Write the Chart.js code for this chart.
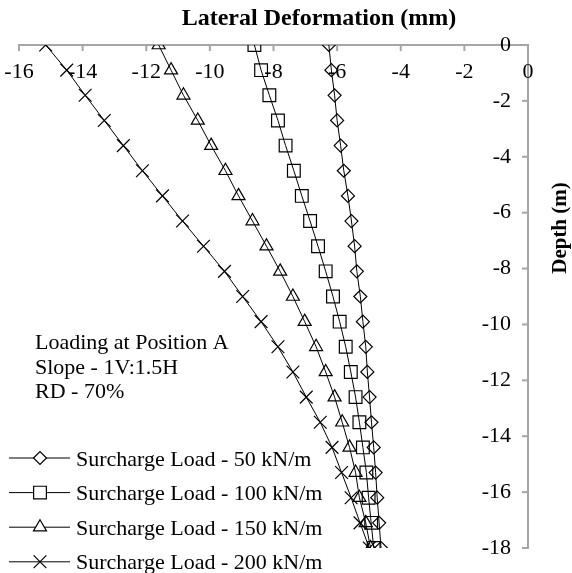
<!DOCTYPE html>
<html>
<head>
<meta charset="utf-8">
<script src="https://cdn.jsdelivr.net/npm/chart.js@4.4.1/dist/chart.umd.min.js"></script>
<style>
  html, body { margin: 0; padding: 0; background: #fff; }
  #chart { display: block; }
</style>
</head>
<body>
<canvas id="chart" width="572" height="573"></canvas>
<script>
// depth of each reading (m)
const depths = [0, -0.9, -1.8, -2.7, -3.6, -4.5, -5.4, -6.3, -7.2, -8.1, -9,
  -9.9, -10.8, -11.7, -12.6, -13.5, -14.4, -15.3, -16.2, -17.1, -18];

// lateral deformation (mm) for each surcharge load
const load50 = [-6.26, -6.18, -6.08, -6.00, -5.89, -5.79, -5.66, -5.55, -5.45, -5.38, -5.27,
  -5.19, -5.10, -5.05, -4.98, -4.92, -4.85, -4.79, -4.74, -4.68, -4.62];
const load100 = [-8.60, -8.39, -8.13, -7.86, -7.62, -7.36, -7.11, -6.85, -6.60, -6.36, -6.13,
  -5.92, -5.73, -5.57, -5.42, -5.30, -5.19, -5.08, -5.01, -4.93, -4.85];
const load150 = [-11.61, -11.22, -10.83, -10.38, -9.96, -9.51, -9.10, -8.66, -8.22, -7.79, -7.39,
  -7.02, -6.66, -6.36, -6.08, -5.84, -5.61, -5.42, -5.30, -5.10, -4.95];
const load200 = [-15.16, -14.50, -13.92, -13.32, -12.72, -12.12, -11.49, -10.86, -10.20, -9.54, -8.97,
  -8.39, -7.86, -7.39, -6.97, -6.53, -6.16, -5.86, -5.56, -5.28, -4.99];

const seriesNames = [
  'Surcharge Load - 50 kN/m',
  'Surcharge Load - 100 kN/m',
  'Surcharge Load - 150 kN/m',
  'Surcharge Load - 200 kN/m',
];
const noteLines = ['Loading at Position A', 'Slope - 1V:1.5H', 'RD - 70%'];
const xTitle = 'Lateral Deformation (mm)';
const yTitle = 'Depth (m)';

const FONT = '"Liberation Serif", "Times New Roman", serif';
const AXIS_GREY = '#a6a6a6';

const markers = [
  { style: 'rectRot', radius: 6.5 },
  { style: 'rect', radius: 9 },
  { style: 'triangle', radius: 7.5 },
  { style: 'crossRot', radius: 9 },
];

function toPoints(values) {
  return values.map((v, i) => ({ x: v, y: depths[i] }));
}

const datasets = [load50, load100, load150, load200].map((vals, i) => ({
  label: seriesNames[i],
  data: toPoints(vals),
  showLine: true,
  borderColor: '#000',
  borderWidth: 1,
  pointStyle: markers[i].style,
  pointRadius: markers[i].radius,
  pointBorderColor: '#000',
  pointBorderWidth: 1.2,
  pointBackgroundColor: 'rgba(0,0,0,0)',
}));

// tick labels, tick marks, titles, note and legend
const decorPlugin = {
  id: 'decor',
  beforeDatasetsDraw(chart) {
    const { ctx, chartArea, scales } = chart;
    const xs = scales.x;
    const ys = scales.y;
    ctx.save();
    ctx.strokeStyle = AXIS_GREY;
    ctx.lineWidth = 2;
    ctx.fillStyle = '#000';
    ctx.font = '22px ' + FONT;

    // x ticks: marks point down, labels below the top axis line
    ctx.textAlign = 'center';
    ctx.textBaseline = 'middle';
    xs.ticks.forEach((t) => {
      const px = xs.getPixelForValue(t.value);
      ctx.beginPath();
      ctx.moveTo(px, chartArea.top);
      ctx.lineTo(px, chartArea.top + 6);
      ctx.stroke();
      ctx.fillText(String(t.value), px, chartArea.top + 27);
    });

    // y ticks: marks point left, labels inside the right axis
    ctx.textAlign = 'right';
    ys.ticks.forEach((t) => {
      const py = ys.getPixelForValue(t.value);
      ctx.beginPath();
      ctx.moveTo(chartArea.right, py);
      ctx.lineTo(chartArea.right - 6, py);
      ctx.stroke();
      ctx.fillText(String(t.value), chartArea.right - 17, py);
    });

    // axis titles
    ctx.font = 'bold 24px ' + FONT;
    ctx.textAlign = 'center';
    ctx.fillText(xTitle, 319, 19);
    ctx.save();
    ctx.translate(561, 228);
    ctx.rotate(-Math.PI / 2);
    ctx.font = 'bold 21px ' + FONT;
    ctx.fillText(yTitle, 0, 0);
    ctx.restore();

    // note text
    ctx.font = '22px ' + FONT;
    ctx.textAlign = 'left';
    ctx.textBaseline = 'alphabetic';
    noteLines.forEach((line, i) => {
      ctx.fillText(line, 35, 349 + i * 24.5);
    });
    ctx.restore();
  },
  afterDatasetsDraw(chart) {
    const { ctx } = chart;
    ctx.save();
    ctx.font = '22px ' + FONT;
    ctx.textAlign = 'left';
    ctx.textBaseline = 'alphabetic';
    chart.data.datasets.forEach((ds, i) => {
      const y = 458 + i * 34.6;
      ctx.strokeStyle = '#000';
      ctx.lineWidth = 1;
      ctx.beginPath();
      ctx.moveTo(9, y);
      ctx.lineTo(70, y);
      ctx.stroke();
      // hollow marker on the legend line
      ctx.fillStyle = '#fff';
      ctx.lineWidth = 1.2;
      Chart.helpers.drawPoint(ctx, {
        pointStyle: ds.pointStyle,
        radius: ds.pointRadius,
        rotation: 0,
        borderWidth: 1.2,
      }, 40, y);
      ctx.fillStyle = '#000';
      ctx.fillText(ds.label, 76, y + 7.5);
    });
    ctx.restore();
  },
};

new Chart(document.getElementById('chart'), {
  type: 'scatter',
  data: { datasets: datasets },
  options: {
    responsive: false,
    animation: false,
    layout: { padding: { left: 19, right: 44, top: 45, bottom: 25 } },
    plugins: {
      legend: { display: false },
      tooltip: { enabled: false },
    },
    scales: {
      x: {
        position: 'top',
        min: -16,
        max: 0,
        ticks: { stepSize: 2, display: false },
        grid: { display: true, drawOnChartArea: false, drawTicks: false },
        border: { color: AXIS_GREY, width: 2 },
      },
      y: {
        position: 'right',
        min: -18,
        max: 0,
        ticks: { stepSize: 2, display: false },
        grid: { display: true, drawOnChartArea: false, drawTicks: false },
        border: { color: AXIS_GREY, width: 2 },
      },
    },
  },
  plugins: [decorPlugin],
});
</script>
</body>
</html>
